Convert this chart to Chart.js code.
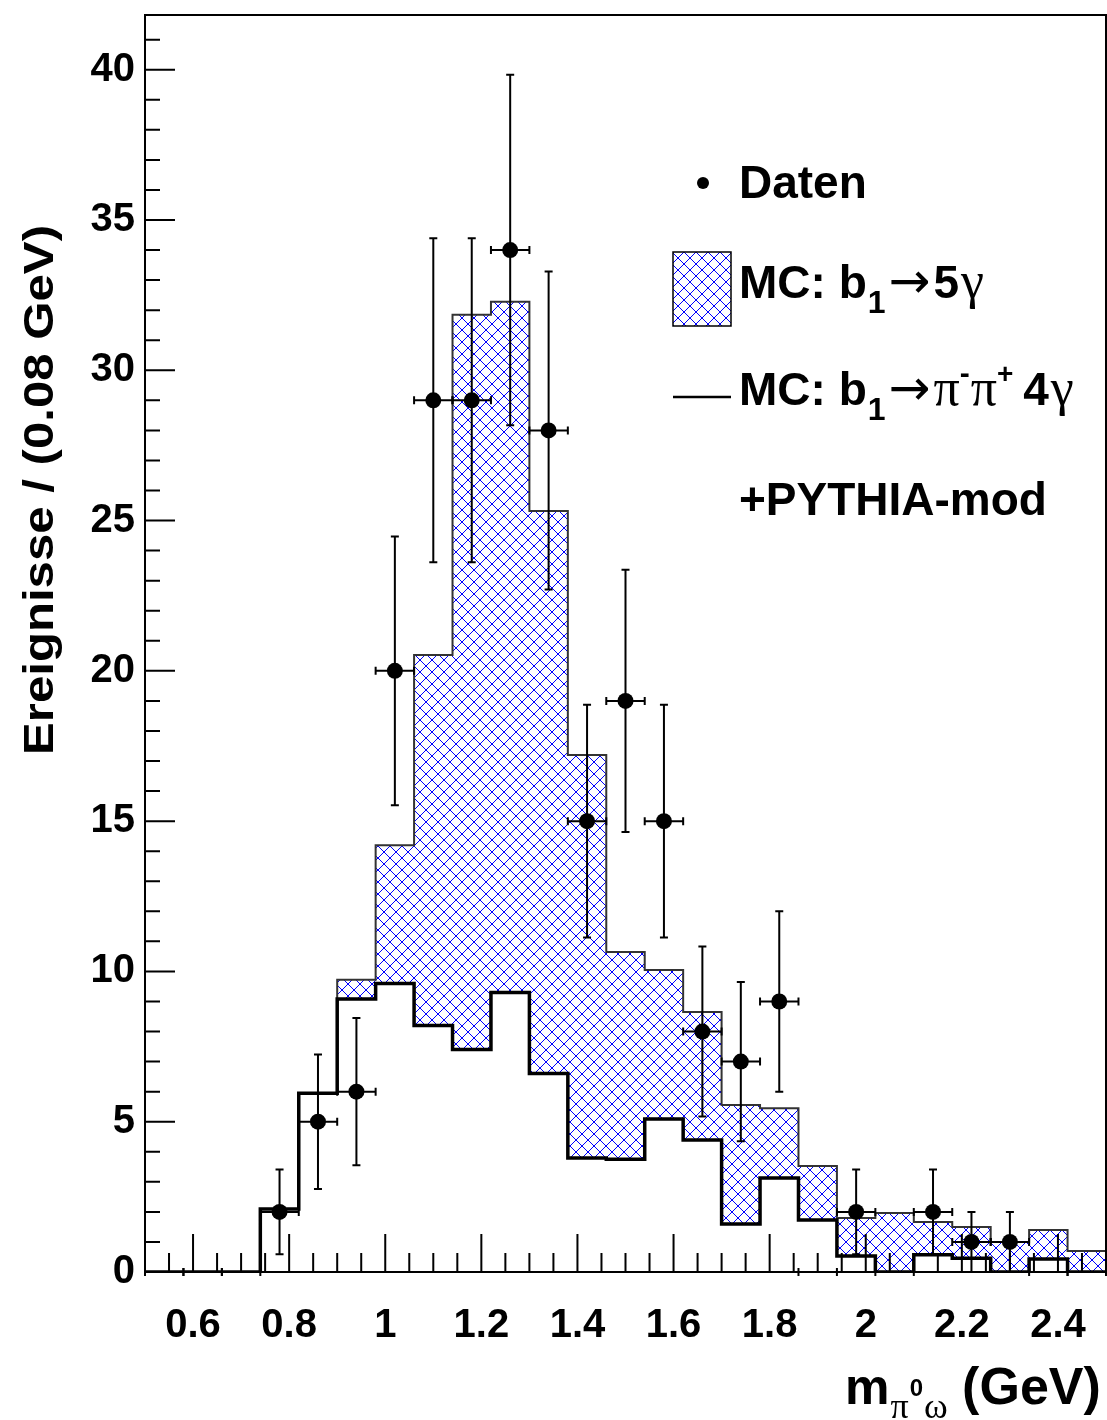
<!DOCTYPE html>
<html>
<head>
<meta charset="utf-8">
<script src="https://cdn.jsdelivr.net/npm/chart.js@4.4.0/dist/chart.umd.min.js"></script>
<style>
  html, body { margin: 0; padding: 0; background: #fff; }
  #wrap { width: 1107px; height: 1420px; }
</style>
</head>
<body>
<div id="wrap"><canvas id="myChart" width="1107" height="1420"></canvas></div>
<script>
// bins of 0.08 GeV: lower edges (+ last upper edge) and centres
const binEdges = [0.50, 0.58, 0.66, 0.74, 0.82, 0.90, 0.98, 1.06, 1.14, 1.22, 1.30, 1.38, 1.46,
  1.54, 1.62, 1.70, 1.78, 1.86, 1.94, 2.02, 2.10, 2.18, 2.26, 2.34, 2.42, 2.50];
const binCenters = [0.54, 0.62, 0.70, 0.78, 0.86, 0.94, 1.02, 1.10, 1.18, 1.26, 1.34, 1.42, 1.50,
  1.58, 1.66, 1.74, 1.82, 1.90, 1.98, 2.06, 2.14, 2.22, 2.30, 2.38, 2.46];

// Daten
const dataCounts = [0, 0, 0, 2, 5, 6, 20, 29, 29, 34, 28, 15, 19, 15, 8, 7, 9, 0, 2, 0, 2, 1, 1, 0, 0];
const dataErrors = [0, 0, 0, 1.41, 2.24, 2.45, 4.47, 5.39, 5.39, 5.83, 5.29, 3.87, 4.36, 3.87, 2.83, 2.65, 3.0,
  0, 1.41, 0, 1.41, 1.0, 1.0, 0, 0];

// MC: b1 -> 5 gamma (hatched, stacked on top of the pi-pi+4gamma histogram)
const mcTotal = [0, 0, 0, 2.1, 5.95, 9.72, 14.2, 20.53, 31.85, 32.28, 25.32, 17.2, 10.65, 10.05, 8.65,
  5.56, 5.45, 3.53, 1.8, 1.96, 1.66, 1.5, 1.0, 1.4, 0.7];
// MC: b1 -> pi- pi+ 4 gamma (+PYTHIA-mod)
const mcPiPi = [0, 0, 0, 2.1, 5.95, 9.08, 9.6, 8.2, 7.4, 9.3, 6.6, 3.79, 3.75, 5.09, 4.39,
  1.6, 3.13, 1.73, 0.53, 0, 0.57, 0.46, 0, 0.43, 0];

const xTickValues = [0.6, 0.8, 1, 1.2, 1.4, 1.6, 1.8, 2, 2.2, 2.4];
const yTickValues = [0, 5, 10, 15, 20, 25, 30, 35, 40];
const yMax = 41.82;

const SANS = "'Liberation Sans', Arial, Helvetica, sans-serif";
const SERIF = "'Liberation Serif', 'Times New Roman', serif";
const ARROW = "'DejaVu Sans', sans-serif";

function makeHatch() {
  const c = document.createElement('canvas');
  c.width = 12; c.height = 12;
  const g = c.getContext('2d');
  g.strokeStyle = '#0000ff';
  g.lineWidth = 1;
  g.beginPath();
  g.moveTo(-1, -1); g.lineTo(13, 13);
  g.moveTo(-1, 13); g.lineTo(13, -1);
  g.stroke();
  return g.createPattern(c, 'repeat');
}
const hatch = makeHatch();

// histogram as step line: one point per lower edge, last value repeated at the upper edge
function stepPoints(values) {
  return binEdges.map((e, i) => ({ x: e, y: values[Math.min(i, values.length - 1)] }));
}

// draw a row of text pieces one after another
function drawPieces(ctx, x, baseline, pieces) {
  let cx = x;
  pieces.forEach(p => {
    ctx.font = p.font;
    cx += (p.dx || 0);
    ctx.fillText(p.t, cx, baseline + (p.dy || 0));
    cx += ctx.measureText(p.t).width;
  });
}

const rootStyle = {
  id: 'rootStyle',
  beforeDatasetDraw(chart, args) {
    if (args.index !== 0) return;
    const ctx = chart.ctx;
    const xs = chart.scales.x, ys = chart.scales.y;
    ctx.save();
    ctx.strokeStyle = '#000';
    ctx.lineWidth = 2;
    for (let i = 0; i < dataCounts.length; i++) {
      const cx = xs.getPixelForValue(binCenters[i]);
      const cy = ys.getPixelForValue(dataCounts[i]);
      const xl = xs.getPixelForValue(binEdges[i]);
      const xr = xs.getPixelForValue(binEdges[i + 1]);
      ctx.beginPath();
      ctx.moveTo(xl, cy); ctx.lineTo(xr, cy);
      ctx.moveTo(xl, cy - 4); ctx.lineTo(xl, cy + 4);
      ctx.moveTo(xr, cy - 4); ctx.lineTo(xr, cy + 4);
      if (dataErrors[i] > 0) {
        const yt = ys.getPixelForValue(dataCounts[i] + dataErrors[i]);
        const yb = ys.getPixelForValue(dataCounts[i] - dataErrors[i]);
        ctx.moveTo(cx, yt); ctx.lineTo(cx, yb);
        ctx.moveTo(cx - 4, yt); ctx.lineTo(cx + 4, yt);
        ctx.moveTo(cx - 4, yb); ctx.lineTo(cx + 4, yb);
      }
      ctx.stroke();
    }
    ctx.restore();
  },
  afterDatasetsDraw(chart) {
    const ctx = chart.ctx;
    const a = chart.chartArea;
    const xs = chart.scales.x, ys = chart.scales.y;
    ctx.save();
    ctx.strokeStyle = '#000';
    ctx.lineWidth = 2;
    ctx.strokeRect(a.left, a.top, a.right - a.left, a.bottom - a.top);
    ctx.beginPath();
    // x ticks: major every 0.2, minor every 0.05
    for (let k = 11; k < 50; k++) {
      const px = xs.getPixelForValue(k * 0.05);
      const major = k % 4 === 0;
      ctx.moveTo(px, a.bottom);
      ctx.lineTo(px, a.bottom - (major ? 38 : 19));
    }
    // y ticks: major every 5, minor every 1
    for (let k = 1; k <= 41; k++) {
      const py = ys.getPixelForValue(k);
      const major = k % 5 === 0;
      ctx.moveTo(a.left, py);
      ctx.lineTo(a.left + (major ? 30 : 15), py);
    }
    ctx.stroke();
    ctx.restore();
  },
  afterDraw(chart) {
    const ctx = chart.ctx;
    ctx.save();
    ctx.fillStyle = '#000';
    ctx.textBaseline = 'alphabetic';
    ctx.textAlign = 'left';

    // y axis title
    ctx.save();
    ctx.translate(53, 490);
    ctx.rotate(-Math.PI / 2);
    ctx.font = 'bold 42px ' + SANS;
    const yTitle = 'Ereignisse / (0.08 GeV)';
    const w = ctx.measureText(yTitle).width;
    ctx.scale(530 / w, 1);
    ctx.textAlign = 'center';
    ctx.fillText(yTitle, 0, 0);
    ctx.restore();

    // x axis title
    drawPieces(ctx, 845, 1404, [
      { t: 'm', font: 'bold 50px ' + SANS },
      { t: 'π', font: '36px ' + SERIF, dy: 14, dx: 1 },
      { t: '0', font: 'bold 24px ' + SANS, dy: -8, dx: 1 },
      { t: 'ω', font: '36px ' + SERIF, dy: 14, dx: 1 },
      { t: ' (GeV)', font: 'bold 52px ' + SANS }
    ]);

    // legend
    ctx.beginPath();
    ctx.arc(703, 183, 6, 0, Math.PI * 2);
    ctx.fill();
    ctx.font = 'bold 46px ' + SANS;
    ctx.fillText('Daten', 739, 198);

    ctx.fillStyle = hatch;
    ctx.fillRect(673, 252, 58, 74);
    ctx.fillStyle = '#000';
    ctx.lineWidth = 1.5;
    ctx.strokeStyle = '#000';
    ctx.strokeRect(673, 252, 58, 74);
    drawPieces(ctx, 739, 298, [
      { t: 'MC: b', font: 'bold 46px ' + SANS },
      { t: '1', font: 'bold 32px ' + SANS, dy: 15, dx: 1 },
      { t: '→', font: '50px ' + ARROW, dx: 3 },
      { t: '5', font: 'bold 46px ' + SANS, dx: 3 },
      { t: 'γ', font: '52px ' + SERIF, dx: 2 }
    ]);

    ctx.lineWidth = 2.5;
    ctx.beginPath();
    ctx.moveTo(673, 397); ctx.lineTo(731, 397);
    ctx.stroke();
    drawPieces(ctx, 739, 405, [
      { t: 'MC: b', font: 'bold 46px ' + SANS },
      { t: '1', font: 'bold 32px ' + SANS, dy: 15, dx: 1 },
      { t: '→', font: '50px ' + ARROW, dx: 3 },
      { t: 'π', font: '52px ' + SERIF, dx: 3 },
      { t: '-', font: 'bold 30px ' + SANS, dy: -22, dx: 0 },
      { t: 'π', font: '52px ' + SERIF, dx: 1 },
      { t: '+', font: 'bold 28px ' + SANS, dy: -22, dx: 0 },
      { t: '4', font: 'bold 46px ' + SANS, dx: 10 },
      { t: 'γ', font: '52px ' + SERIF, dx: 2 }
    ]);

    ctx.font = 'bold 46px ' + SANS;
    ctx.fillText('+PYTHIA-mod', 739, 515);
    ctx.restore();
  }
};

const ctx = document.getElementById('myChart').getContext('2d');
const chart = new Chart(ctx, {
  type: 'line',
  data: {
    datasets: [
      {
        type: 'scatter',
        label: 'Daten',
        data: binCenters.map((c, i) => ({ x: c, y: dataCounts[i] })).filter(p => p.y > 0),
        backgroundColor: '#000',
        borderColor: '#000',
        borderWidth: 0,
        pointRadius: 8,
        order: 0
      },
      {
        label: 'MC: b1 -> pi- pi+ 4gamma',
        data: stepPoints(mcPiPi),
        stepped: 'before',
        fill: 'origin',
        backgroundColor: '#ffffff',
        borderColor: '#000',
        borderWidth: 3.5,
        pointRadius: 0,
        order: 1
      },
      {
        label: 'MC: b1 -> 5gamma',
        data: stepPoints(mcTotal),
        stepped: 'before',
        fill: 'origin',
        backgroundColor: hatch,
        borderColor: '#333',
        borderWidth: 2,
        pointRadius: 0,
        order: 2
      }
    ]
  },
  options: {
    responsive: false,
    animation: false,
    layout: { autoPadding: false, padding: { left: 0, top: 15, right: 1, bottom: 0 } },
    plugins: {
      legend: { display: false },
      tooltip: { enabled: false },
      title: { display: false }
    },
    scales: {
      x: {
        type: 'linear',
        min: 0.5,
        max: 2.5,
        grid: { display: false, drawTicks: false },
        border: { display: false },
        afterBuildTicks: s => { s.ticks = xTickValues.map(v => ({ value: v })); },
        afterFit: s => { s.height = 148; s.paddingLeft = 0; s.paddingRight = 0; },
        ticks: {
          font: { family: SANS, weight: 'bold', size: 40 },
          color: '#000',
          padding: 30,
          autoSkip: false,
          maxRotation: 0,
          callback: v => String(v)
        }
      },
      y: {
        min: 0,
        max: yMax,
        grid: { display: false, drawTicks: false },
        border: { display: false },
        afterBuildTicks: s => { s.ticks = yTickValues.map(v => ({ value: v })); },
        afterFit: s => { s.width = 145; s.paddingTop = 0; s.paddingBottom = 0; },
        ticks: {
          font: { family: SANS, weight: 'bold', size: 40 },
          color: '#000',
          padding: 10,
          callback: v => String(v)
        }
      }
    }
  },
  plugins: [rootStyle]
});
</script>
</body>
</html>
